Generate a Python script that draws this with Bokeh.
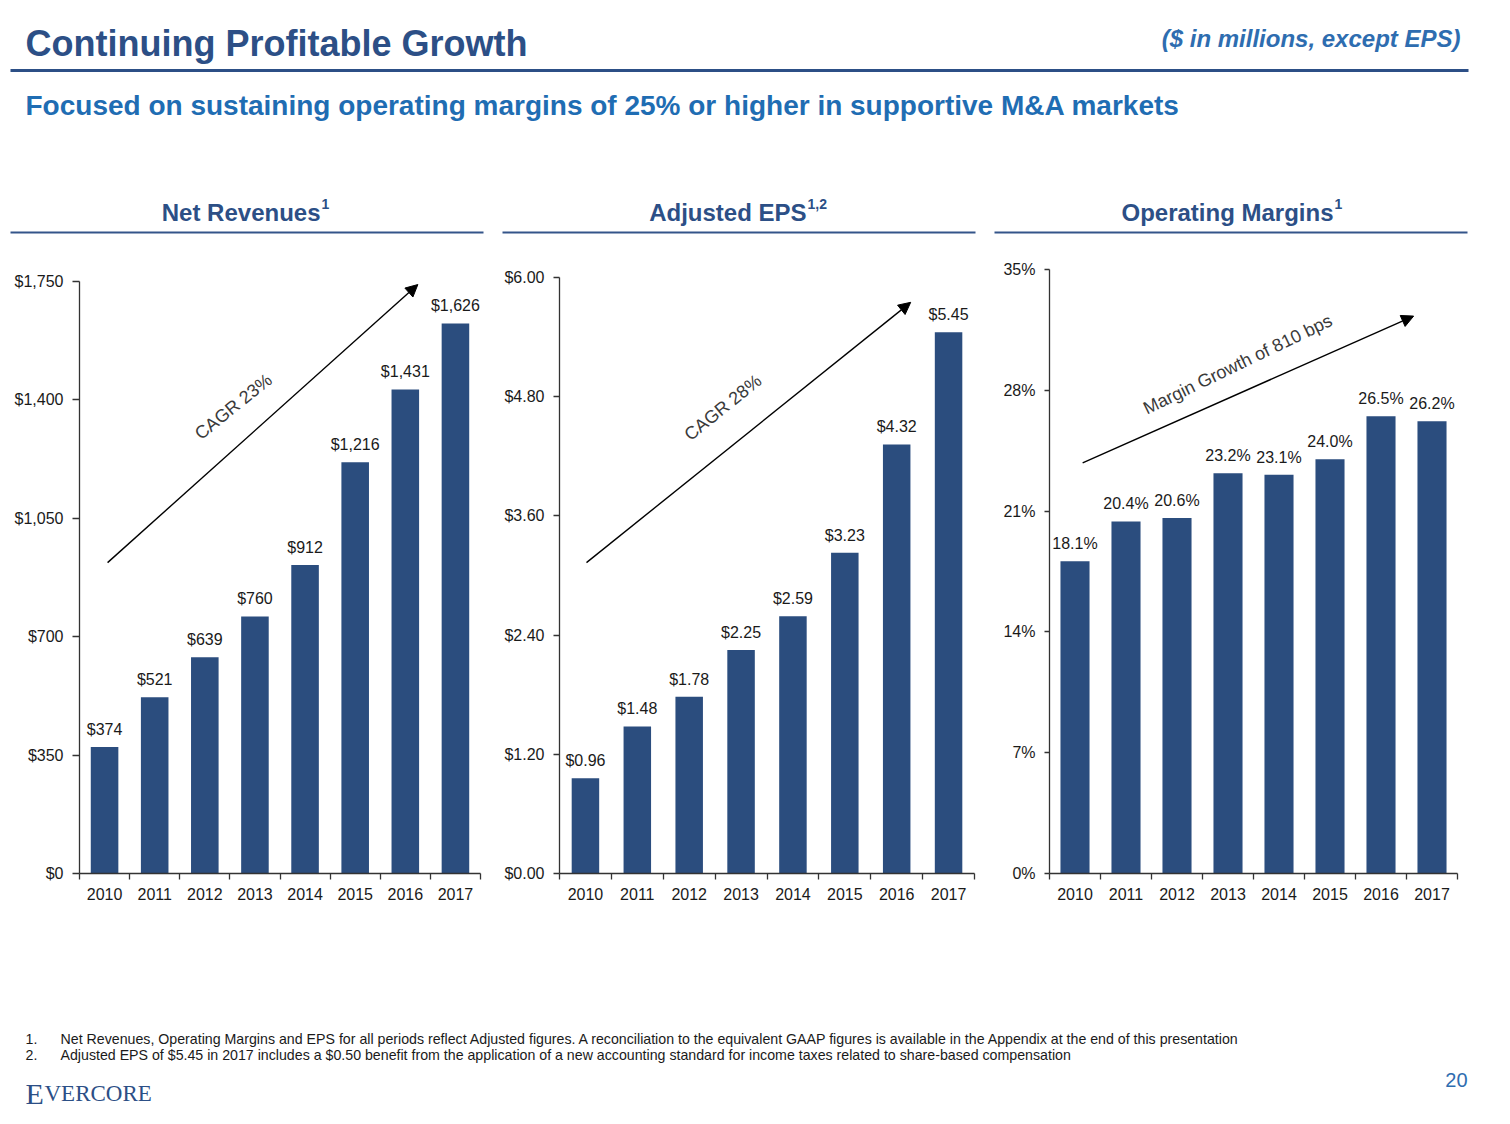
from bokeh.core.properties import value
from bokeh.embed import file_html
from bokeh.layouts import column, row
from bokeh.models import (Arrow, FixedTicker, NormalHead, NumeralTickFormatter,
                          PrintfTickFormatter, Range1d)
from bokeh.plotting import figure
from bokeh.resources import INLINE

# data
years = ["2010", "2011", "2012", "2013", "2014", "2015", "2016", "2017"]
revenues = [374, 521, 639, 760, 912, 1216, 1431, 1626]
eps = [0.96, 1.48, 1.78, 2.25, 2.59, 3.23, 4.32, 5.45]
margins = [18.1, 20.4, 20.6, 23.2, 23.1, 24.0, 26.5, 26.2]

revenue_ticks = [0, 350, 700, 1050, 1400, 1750]
eps_ticks = [0, 1.2, 2.4, 3.6, 4.8, 6.0]
margin_ticks = [0, 7, 14, 21, 28, 35]

revenue_labels = ["${:,}".format(v) for v in revenues]
eps_labels = ["${:.2f}".format(v) for v in eps]
margin_labels = ["{:.1f}%".format(v) for v in margins]

DARK = "#2C4F86"
BLUE = "#2E6DB0"
BAR = "#2B4D7E"
INK = "#1a1a1a"
FONT = "Liberation Sans"

ROW_TOP = 245        # page y where the chart row starts
FRAME_TOP = 269      # shared frame top (row aligns the frames)
FRAME_BOTTOM = 873


def blank(width, height, top, bottom):
    # figure in page pixel coordinates, y growing downwards
    p = figure(width=width, height=height, x_range=Range1d(0, width), y_range=Range1d(bottom, top),
               output_backend="svg", toolbar_location=None, min_border=0)
    p.axis.visible = False
    p.grid.visible = False
    p.outline_line_color = None
    return p


def label(p, x, y, txt, size, color=DARK, style="normal", align="left", font=FONT):
    p.text(x=[x], y=[y], text=[txt], text_font=value(font), text_font_size=size, text_font_style=style,
           text_color=color, text_align=align, text_baseline="alphabetic")


def bar_chart(vals, labels, ticks, formatter, width, left, right, axis_top, bar_w, tick_out, arrow, note):
    frame_h = FRAME_BOTTOM - FRAME_TOP
    # the axis stops at the last tick, which sits axis_top px down the page
    y_end = ticks[-1] * frame_h / (FRAME_BOTTOM - axis_top)
    p = figure(width=width, height=675, x_range=Range1d(0, len(years)), y_range=Range1d(ticks[0], y_end),
               output_backend="svg", toolbar_location=None, min_border_left=left, min_border_right=right,
               min_border_top=FRAME_TOP - ROW_TOP, min_border_bottom=675 - (FRAME_TOP - ROW_TOP) - frame_h)
    p.grid.visible = False
    p.outline_line_color = None
    xs = [i + 0.5 for i in range(len(years))]
    p.vbar(x=xs, top=vals, width=bar_w, fill_color=BAR, line_color=None)
    p.text(x=xs, y=vals, text=labels, text_font=value(FONT), text_font_size="16px", text_color=INK,
           text_align="center", text_baseline="bottom", y_offset=-9)

    x0, y0, x1, y1 = arrow
    p.add_layout(Arrow(end=NormalHead(size=12, fill_color="black", line_color="black", line_width=1),
                       x_start=x0, y_start=y0, x_end=x1, y_end=y1, line_width=1.4, line_color="black"))
    tx, ty, ang, txt = note
    p.text(x=[tx], y=[ty], text=[txt], angle=ang, text_font=value(FONT), text_font_size="18px",
           text_color="#3a3a3a", text_align="center", text_baseline="middle")

    for ax in (p.xaxis[0], p.yaxis[0]):
        ax.axis_line_color = "#333333"
        ax.axis_line_width = 1.3
        ax.major_tick_line_color = "#333333"
        ax.major_tick_line_width = 1.3
        ax.minor_tick_line_color = "#333333"
        ax.minor_tick_line_width = 1.3
        ax.major_label_text_font = FONT
        ax.major_label_text_font_size = "16px"
        ax.major_label_text_color = INK

    p.xaxis.ticker = FixedTicker(ticks=xs, minor_ticks=list(range(len(years) + 1)))
    p.xaxis.major_label_overrides = dict(zip(xs, years))
    p.xaxis.major_tick_out = 0
    p.xaxis.major_tick_in = 0
    p.xaxis.minor_tick_out = 6
    p.xaxis.minor_tick_in = 0
    p.xaxis.major_label_standoff = 8

    p.yaxis.ticker = FixedTicker(ticks=ticks)
    p.yaxis.bounds = (ticks[0], ticks[-1])
    p.yaxis.formatter = formatter
    p.yaxis.major_tick_out = tick_out
    p.yaxis.major_tick_in = 0
    p.yaxis.minor_tick_out = 0
    p.yaxis.minor_tick_in = 0
    p.yaxis.major_label_standoff = 9
    return p


# header: titles and section headings
head = blank(1502, ROW_TOP, 0, ROW_TOP)
label(head, 25, 43, "Continuing Profitable Growth", "36px", style="bold")
label(head, 1460, 38, "($ in millions, except EPS)", "24px", color=BLUE, style="bold italic", align="right")
head.line(x=[10, 1468], y=[70, 70], line_width=3, line_color=DARK)
label(head, 25, 105, "Focused on sustaining operating margins of 25% or higher in supportive M&A markets",
      "28px", color="#1F6DB3", style="bold")

sections = [("Net Revenues", "1", 320, 10, 483),
            ("Adjusted EPS", "1,2", 806, 502, 975),
            ("Operating Margins", "1", 1333, 994, 1467)]
for name, sup, xend, l0, l1 in sections:
    label(head, xend, 212, name, "24px", style="bold", align="right")
    label(head, xend + 1, 203, sup, "14px", style="bold")
    head.line(x=[l0, l1], y=[232, 232], line_width=2, line_color="#34558A")

c1 = bar_chart(revenues, revenue_labels, revenue_ticks, NumeralTickFormatter(format="$0,0"),
               500, 79, 20, 281, 0.55, 7,
               (0.56, 919, 6.75, 1741), (3.07, 1380, 0.68, "CAGR 23%"))
c2 = bar_chart(eps, eps_labels, eps_ticks, NumeralTickFormatter(format="$0.00"),
               498, 59, 24, 277, 0.53, 6,
               (0.52, 3.13, 6.77, 5.75), (3.15, 4.69, 0.68, "CAGR 28%"))
c3 = bar_chart(margins, margin_labels, margin_ticks, PrintfTickFormatter(format="%d%%"),
               504, 51, 45, 269, 0.57, 5,
               (0.65, 23.8, 7.14, 32.3), (3.69, 29.5, 0.45, "Margin Growth of 810 bps"))

# footer: notes, logo, page number
foot = blank(1502, 200, 920, 1120)
label(foot, 25, 1038, "1.", "14.2px", color=INK)
label(foot, 60, 1038, "Net Revenues, Operating Margins and EPS for all periods reflect Adjusted figures. "
      "A reconciliation to the equivalent GAAP figures is available in the Appendix at the end of this presentation",
      "14.2px", color=INK)
label(foot, 25, 1054, "2.", "14.2px", color=INK)
label(foot, 60, 1054, "Adjusted EPS of $5.45 in 2017 includes a $0.50 benefit from the application of a new "
      "accounting standard for income taxes related to share-based compensation", "14.2px", color=INK)
label(foot, 25, 1093, "E", "30px", font="Liberation Serif")
label(foot, 44, 1093, "VERCORE", "23px", font="Liberation Serif")
label(foot, 1467, 1079, "20", "20px", color=BLUE, align="right")

layout = column(head, row(c1, c2, c3), foot)
open("out.html", "w").write(file_html(layout, INLINE))
